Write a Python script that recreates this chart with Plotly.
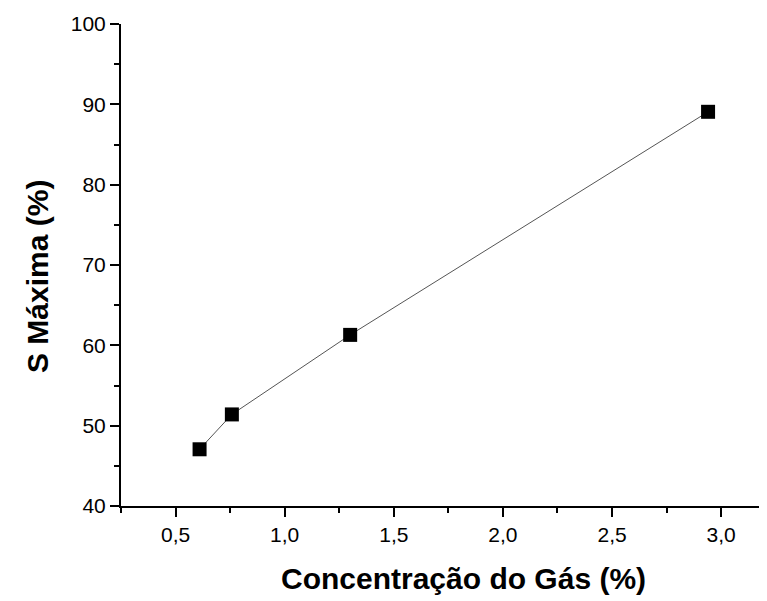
import plotly.graph_objects as go

conc = [0.61, 0.758, 1.30, 2.94]
s_max = [47.06, 51.4, 61.3, 89.07]
x_ticks = [0.5, 1.0, 1.5, 2.0, 2.5, 3.0]
x_labels = ["0,5", "1,0", "1,5", "2,0", "2,5", "3,0"]
y_ticks = [40, 50, 60, 70, 80, 90, 100]

fig = go.Figure()
fig.add_trace(go.Scatter(
    x=conc, y=s_max, mode="lines+markers",
    line=dict(color="#555555", width=1),
    marker=dict(symbol="square", size=14, color="black"),
    showlegend=False,
))

font = "Liberation Sans, Arial, sans-serif"
fig.update_layout(
    width=759, height=593,
    margin=dict(l=113, r=0, t=16, b=95),
    plot_bgcolor="white", paper_bgcolor="white",
    font=dict(family=font, color="black"),
    xaxis=dict(
        range=[0.25, 3.21], tickvals=x_ticks, ticktext=x_labels,
        showline=True, linecolor="black", linewidth=2,
        ticks="outside", ticklen=9, tickwidth=2, tickcolor="black",
        showgrid=False, zeroline=False,
        tickfont=dict(size=21, family=font),
        minor=dict(tickvals=[0.25, 0.75, 1.25, 1.75, 2.25, 2.75], ticks="outside", ticklen=5, tickwidth=2, tickcolor="black", showgrid=False),
    ),
    yaxis=dict(
        range=[40, 100], tickvals=y_ticks,
        showline=True, linecolor="black", linewidth=2,
        ticks="outside", ticklen=9, tickwidth=2, tickcolor="black",
        showgrid=False, zeroline=False,
        tickfont=dict(size=21, family=font),
        minor=dict(tickvals=[45, 55, 65, 75, 85, 95], ticks="outside", ticklen=5, tickwidth=2, tickcolor="black", showgrid=False),
    ),
    annotations=[
        dict(text="<b>Concentração do Gás (%)</b>", xref="paper", yref="paper",
             x=(463 - 121) / 646, y=-(578 - 506) / 482, xanchor="center", yanchor="middle",
             showarrow=False, font=dict(size=30, family=font)),
        dict(text="<b>S Máxima (%)</b>", xref="paper", yref="paper",
             x=-(121 - 37) / 646, y=(506 - 277) / 482, xanchor="center", yanchor="middle",
             textangle=-90, showarrow=False, font=dict(size=30, family=font)),
    ],
)

fig.write_html("out.html")
